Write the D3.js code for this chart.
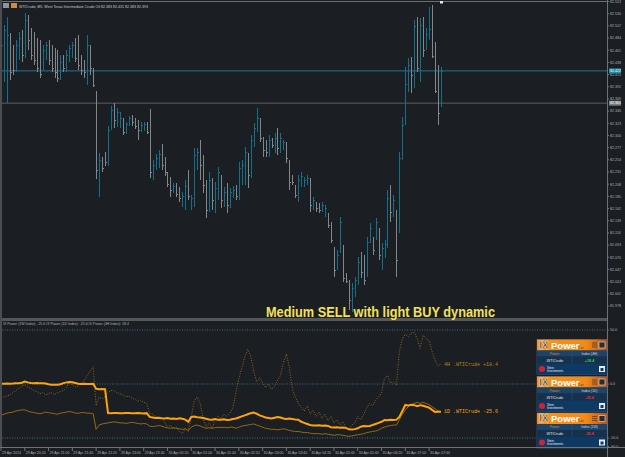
<!DOCTYPE html>
<html>
<head>
<meta charset="utf-8">
<script src="https://cdn.jsdelivr.net/npm/d3@7.9.0/dist/d3.min.js"></script>
<style>
html, body { margin: 0; padding: 0; background: #1b1e22; }
svg { display: block; font-family: "Liberation Sans", Arial, sans-serif; }
</style>
</head>
<body>
<svg id="chart" width="625" height="457"></svg>
<script>
// --- data (WTICrude M5) ---
const opens = [82.424,82.414,82.377,82.484,82.462,82.428,82.452,82.488,82.452,82.514,82.480,82.458,82.446,82.439,82.428,82.452,82.471,82.452,82.439,82.428,82.409,82.443,82.428,82.446,82.458,82.471,82.471,82.439,82.428,82.409,82.462,82.424,82.382,82.197,82.254,82.258,82.250,82.314,82.348,82.326,82.320,82.329,82.307,82.322,82.333,82.328,82.322,82.310,82.314,82.322,82.310,82.226,82.243,82.254,82.269,82.250,82.227,82.212,82.195,82.205,82.194,82.173,82.178,82.207,82.169,82.178,82.254,82.273,82.244,82.207,82.163,82.212,82.169,82.197,82.220,82.175,82.194,82.169,82.188,82.197,82.186,82.235,82.239,82.263,82.226,82.292,82.314,82.329,82.292,82.282,82.269,82.292,82.277,82.301,82.277,82.280,82.284,82.254,82.220,82.207,82.188,82.212,82.207,82.212,82.216,82.163,82.173,82.167,82.160,82.152,82.152,82.131,82.088,82.050,82.080,82.088,82.037,82.024,81.980,82.005,82.024,82.069,82.061,82.042,82.103,82.103,82.107,82.122,82.061,82.080,82.095,82.188,82.156,82.156,82.126,82.263,82.333,82.396,82.433,82.413,82.499,82.424,82.511,82.465,82.484,82.501,82.452,82.386,82.356];
const highs = [82.480,82.509,82.524,82.494,82.471,82.480,82.496,82.499,82.531,82.528,82.503,82.496,82.484,82.480,82.471,82.477,82.480,82.471,82.465,82.462,82.452,82.452,82.462,82.471,82.477,82.484,82.490,82.452,82.443,82.490,82.471,82.428,82.384,82.267,82.260,82.269,82.318,82.356,82.361,82.352,82.345,82.333,82.326,82.337,82.339,82.333,82.329,82.326,82.326,82.326,82.350,82.254,82.265,82.273,82.284,82.260,82.231,82.222,82.211,82.211,82.203,82.194,82.216,82.235,82.188,82.277,82.277,82.292,82.263,82.216,82.231,82.220,82.212,82.241,82.226,82.203,82.211,82.201,82.205,82.207,82.250,82.254,82.278,82.267,82.301,82.324,82.352,82.333,82.297,82.292,82.301,82.295,82.305,82.314,82.305,82.292,82.288,82.254,82.226,82.207,82.226,82.231,82.222,82.226,82.220,82.184,82.175,82.173,82.175,82.169,82.154,82.137,82.090,82.084,82.146,82.093,82.041,82.027,82.022,82.033,82.071,82.080,82.075,82.109,82.135,82.109,82.144,82.126,82.097,82.103,82.197,82.207,82.188,82.160,82.269,82.335,82.430,82.446,82.448,82.518,82.524,82.522,82.524,82.503,82.543,82.547,82.477,82.433,82.430];
const lows = [82.414,82.401,82.361,82.405,82.414,82.420,82.443,82.439,82.446,82.462,82.443,82.433,82.420,82.409,82.424,82.443,82.433,82.420,82.409,82.401,82.405,82.420,82.420,82.439,82.446,82.439,82.424,82.414,82.409,82.396,82.414,82.392,82.218,82.184,82.231,82.243,82.243,82.310,82.314,82.316,82.314,82.301,82.303,82.318,82.318,82.312,82.292,82.307,82.309,82.303,82.220,82.216,82.235,82.239,82.235,82.224,82.203,82.184,82.192,82.184,82.175,82.165,82.160,82.178,82.160,82.165,82.235,82.216,82.192,82.144,82.156,82.160,82.154,82.178,82.163,82.165,82.154,82.163,82.182,82.178,82.178,82.207,82.207,82.201,82.220,82.278,82.307,82.288,82.260,82.260,82.260,82.277,82.267,82.263,82.267,82.273,82.248,82.197,82.207,82.182,82.175,82.203,82.203,82.207,82.156,82.160,82.156,82.154,82.156,82.146,82.126,82.097,82.033,82.046,82.078,82.024,82.022,81.971,81.967,81.995,82.018,82.031,82.018,82.033,82.097,82.075,82.103,82.065,82.046,82.069,82.088,82.137,82.146,82.033,82.116,82.254,82.320,82.382,82.380,82.390,82.420,82.401,82.448,82.462,82.480,82.446,82.380,82.320,82.354];
const closes = [82.471,82.499,82.490,82.420,82.424,82.471,82.484,82.452,82.518,82.480,82.452,82.443,82.428,82.416,82.462,82.471,82.443,82.428,82.420,82.409,82.439,82.428,82.452,82.465,82.471,82.446,82.433,82.424,82.420,82.471,82.428,82.396,82.235,82.254,82.239,82.250,82.310,82.348,82.329,82.345,82.333,82.307,82.322,82.333,82.326,82.318,82.310,82.320,82.322,82.307,82.231,82.244,82.258,82.265,82.244,82.231,82.209,82.197,82.205,82.190,82.182,82.186,82.205,82.186,82.182,82.263,82.269,82.244,82.207,82.160,82.216,82.178,82.201,82.231,82.178,82.194,82.169,82.194,82.197,82.186,82.239,82.244,82.269,82.226,82.292,82.314,82.333,82.295,82.273,82.269,82.292,82.282,82.295,82.277,82.295,82.288,82.258,82.212,82.212,82.188,82.216,82.224,82.216,82.220,82.169,82.178,82.163,82.160,82.169,82.163,82.131,82.103,82.046,82.075,82.137,82.031,82.025,81.990,82.012,82.027,82.061,82.042,82.027,82.099,82.126,82.084,82.137,82.075,82.088,82.095,82.182,82.156,82.178,82.065,82.258,82.320,82.397,82.433,82.414,82.507,82.428,82.509,82.462,82.492,82.501,82.450,82.384,82.343,82.422];

const power4h = [-13,-12,-11,-10,-8,-6,-4,-2,-1,-3,-4,-6,-7,-9,-8,-10,-9,-8,-10,-8,-7,-6,-3,2,-1,-3,-2,1,3,8,12,16,-20,-12,-14,-11,-8,-6,-6,-8,-9,-10,-12,-11,-13,-14,-16,-15,-17,-18,-27,-28,-30,-32,-31,-35,-40,-38,-42,-40,-44,-46,-41,-44,-30,-16,-12,-18,-32,-40,-36,-41,-33,-30,-32,-28,-30,-27,-22,-8,5,15,25,32,26,12,2,6,1,-3,0,-5,-2,3,8,20,28,15,-5,-12,-18,-22,-25,-20,-28,-24,-30,-26,-32,-28,-34,-30,-36,-33,-38,-35,-40,-42,-38,-36,-30,-33,-28,-22,-18,-20,-15,-12,-8,5,8,1,2,-1,30,42,46,44,47,48,42,33,45,42,40,30,22,17,18.4];
const power1d = [0.2,0.3,0.5,0.3,0.4,0.6,0.8,1.2,2.2,1.5,1.0,0.8,0.9,0.7,0.6,0.4,-0.3,-0.6,-0.8,-0.6,-0.2,0.8,1.5,1.9,1.6,1.0,0.3,0.1,0.2,0.0,0.1,0.2,-4.5,-4.8,-4.6,-4.8,-26.9,-27.0,-26.8,-26.9,-27.1,-27.0,-26.8,-26.9,-27.0,-27.1,-26.9,-27.0,-27.2,-27.0,-30.5,-31.0,-31.5,-31.2,-31.8,-32.0,-31.5,-32.2,-32.0,-32.4,-31.8,-32.2,-33.0,-35.0,-30.5,-30.2,-30.8,-31.0,-31.5,-32.2,-32.8,-33.0,-32.5,-33.2,-33.0,-32.6,-33.3,-33.0,-32.4,-32.0,-31.0,-30.0,-29.0,-28.0,-27.0,-26.5,-27.5,-29.0,-30.0,-31.0,-31.5,-32.0,-31.2,-30.5,-31.0,-32.0,-32.5,-32.0,-32.5,-32.8,-33.0,-35.0,-36.0,-37.0,-38.0,-38.5,-38.5,-38.2,-38.6,-38.5,-38.8,-40.0,-40.2,-40.0,-40.5,-40.2,-40.6,-42.0,-42.2,-41.8,-41.0,-39.5,-39.0,-39.2,-38.8,-38.0,-37.0,-36.0,-35.0,-33.3,-33.5,-33.2,-33.3,-33.0,-30.5,-25.0,-19.4,-19.8,-19.2,-19.6,-20.5,-19.6,-20.2,-21.0,-22.0,-24.0,-26.0,-25.8,-25.6];
const power1w = [-28.7,-28,-27,-26.5,-26,-25,-24.5,-24,-24,-25,-26,-26.5,-27,-27.5,-27,-26,-26.5,-27,-27.5,-28,-27,-26.5,-26,-25.5,-26,-27,-27,-26.5,-26.5,-27,-27,-27.5,-42,-38,-37,-36.5,-36,-35.5,-35,-35.5,-36,-36,-36.5,-36,-35.5,-36,-36.5,-37,-36.5,-37,-39,-39.5,-39,-38.5,-39,-40,-40.5,-41,-40.5,-41,-41.5,-42,-41.5,-43,-40,-38.5,-38,-39,-40,-41,-40.5,-41,-40.5,-40,-40.5,-40,-40.5,-40,-40,-41,-40,-39,-38.5,-38,-37.5,-37,-38,-39,-40,-41,-41.5,-42,-42,-42.5,-42,-41.5,-42,-43,-43.5,-44,-44,-44.5,-45,-45,-45.5,-46,-46,-46,-46.5,-46,-46.5,-47,-47.5,-47,-47,-47.5,-48,-48.5,-48,-47.5,-47,-46.5,-46,-45,-44.5,-44,-43.5,-42.6,-41,-40,-39,-38.5,-38,-38,-33,-28,-24,-21,-19,-18,-17,-18,-17,-18,-19,-21,-23,-25,-25.6];

const priceTicks = [82.553,82.530,82.507,82.484,82.461,82.438,82.415,82.392,82.369,82.346,82.323,82.300,82.277,82.254,82.231,82.208,82.185,82.162,82.139,82.116,82.093,82.070,82.047,82.024,82.001,81.978];
const powerTicks = [50, 0, -50, -60];
const timeLabels = ['29 Apr 2024','29 Apr 20:20','29 Apr 21:00','29 Apr 21:40','29 Apr 22:20','29 Apr 23:00','29 Apr 23:40','30 Apr 00:20','30 Apr 01:00','30 Apr 01:40','30 Apr 02:20','30 Apr 03:00','30 Apr 03:40','30 Apr 04:20','30 Apr 05:00','30 Apr 05:40','30 Apr 06:20','30 Apr 07:00','30 Apr 07:40'];

const widgetFrames = ['4H', '1D', '1W'];
const widgetValues = [18.4, -25.6, -35.8];

const bidPrice = 82.422;
const refPrice = 82.361;

// --- layout ---
const svg = d3.select('#chart');
const axisX = 607;
const bull = '#14708a', bear = '#84878a';

const t0 = new Date(2024, 3, 29, 19, 40);
const barTimes = closes.map((_, i) => d3.timeMinute.offset(t0, 5 * i));
const x = d3.scaleTime().domain([barTimes[0], barTimes[barTimes.length - 1]]).range([1, 441]);
const y = d3.scaleLinear().domain([81.978, 82.553]).range([306, 1.5]);
const yP = d3.scaleLinear().domain([-50, 50]).range([438, 330]);

svg.append('rect').attr('width', 625).attr('height', 457).attr('fill', '#1b1e22');

// price panel helper lines
svg.append('line').attr('x1', 2).attr('x2', axisX).attr('y1', 1.5).attr('y2', 1.5)
  .attr('stroke', '#6b6e72').attr('stroke-width', 1);
svg.append('line').attr('x1', 2).attr('x2', axisX).attr('y1', y(bidPrice)).attr('y2', y(bidPrice))
  .attr('stroke', '#1c7892').attr('stroke-width', 1);
svg.append('line').attr('x1', 2).attr('x2', axisX).attr('y1', y(refPrice)).attr('y2', y(refPrice))
  .attr('stroke', '#5b5e62').attr('stroke-width', 1);

// OHLC bars
const bars = svg.append('g').attr('shape-rendering', 'crispEdges');
closes.forEach((c, i) => {
  const xi = Math.round(x(barTimes[i])) + 0.5;
  const col = c >= opens[i] ? bull : bear;
  bars.append('line').attr('x1', xi).attr('x2', xi)
    .attr('y1', y(highs[i])).attr('y2', y(lows[i])).attr('stroke', col);
  bars.append('line').attr('x1', xi - 1).attr('x2', xi)
    .attr('y1', Math.round(y(opens[i])) + 0.5).attr('y2', Math.round(y(opens[i])) + 0.5).attr('stroke', col);
  bars.append('line').attr('x1', xi).attr('x2', xi + 1)
    .attr('y1', Math.round(y(c)) + 0.5).attr('y2', Math.round(y(c)) + 0.5).attr('stroke', col);
});

// high marker
svg.append('rect').attr('x', 440).attr('y', 1).attr('width', 3).attr('height', 2.5).attr('fill', '#e8e8e8');

// title
svg.append('rect').attr('x', 3).attr('y', 3).attr('width', 6).attr('height', 5).attr('fill', '#8d96a0');
svg.append('rect').attr('x', 11).attr('y', 3).attr('width', 6).attr('height', 5).attr('fill', '#d08a3c');
svg.append('text').attr('x', 19).attr('y', 7.5).attr('font-size', 3.6).attr('fill', '#c9ccd0')
  .text('WTICrude, M5:  West Texas Intermediate Crude Oil  82.383 82.431 82.383 82.393');

// price axis
svg.append('line').attr('x1', axisX + 0.5).attr('x2', axisX + 0.5).attr('y1', 0).attr('y2', 457)
  .attr('stroke', '#6f7276');
const pAxis = svg.append('g');
priceTicks.forEach(p => {
  const yy = y(p);
  pAxis.append('line').attr('x1', axisX).attr('x2', axisX + 2).attr('y1', yy).attr('y2', yy).attr('stroke', '#6f7276');
  pAxis.append('text').attr('x', 610).attr('y', yy + 1.3).attr('font-size', 3.6).attr('fill', '#aeb2b6')
    .text(p.toFixed(3));
});
// current price boxes
svg.append('rect').attr('x', 609).attr('y', y(bidPrice) - 2.5).attr('width', 12).attr('height', 5).attr('fill', '#1a8fb0');
svg.append('text').attr('x', 610).attr('y', y(bidPrice) + 1.3).attr('font-size', 3.6).attr('fill', '#ffffff')
  .text(bidPrice.toFixed(3));
svg.append('rect').attr('x', 609).attr('y', y(refPrice) - 2.5).attr('width', 12).attr('height', 5).attr('fill', '#7a7e82');
svg.append('text').attr('x', 610).attr('y', y(refPrice) + 1.3).attr('font-size', 3.6).attr('fill', '#ffffff')
  .text(refPrice.toFixed(3));

// panel separator
svg.append('rect').attr('x', 0).attr('y', 318).attr('width', axisX).attr('height', 3).attr('fill', '#54575b');

// signal text
svg.append('text').attr('x', 266).attr('y', 317).attr('font-size', 15).attr('font-weight', 'bold')
  .attr('fill', '#f4e15a').attr('textLength', 229).attr('lengthAdjust', 'spacingAndGlyphs')
  .text('Medium SELL with light BUY dynamic');

// indicator panel
svg.append('text').attr('x', 3).attr('y', 324.8).attr('font-size', 3.5).attr('fill', '#aeb2b6')
  .text('IX Power (1W Index): -25.6  IX Power (1D Index): -25.6  IX Power (4H Index): 18.4');

[50, 0, -50].forEach(v => {
  svg.append('line').attr('x1', 2).attr('x2', axisX).attr('y1', yP(v)).attr('y2', yP(v))
    .attr('stroke', '#2f7190').attr('stroke-dasharray', '1,1.5');
});

const line = d3.line().x((d, i) => x(barTimes[i])).y(d => yP(d));
svg.append('path').datum(power4h).attr('d', line).attr('fill', 'none')
  .attr('stroke', '#94691a').attr('stroke-width', 1).attr('stroke-dasharray', '1,1.5');
svg.append('path').datum(power1w).attr('d', line).attr('fill', 'none')
  .attr('stroke', '#946a14').attr('stroke-width', 1);
svg.append('path').datum(power1d).attr('d', line).attr('fill', 'none')
  .attr('stroke', '#ffa40a').attr('stroke-width', 2);

const last = power4h.length - 1;
svg.append('text').attr('x', 444).attr('y', yP(power4h[last]) + 1.5)
  .attr('font-family', '"Liberation Mono", monospace').attr('font-size', 5).attr('fill', '#b8841a')
  .text('4H .WTICrude +' + power4h[last].toFixed(1));
svg.append('text').attr('x', 444).attr('y', yP(power1d[last]) + 1.5)
  .attr('font-family', '"Liberation Mono", monospace').attr('font-size', 5).attr('fill', '#ffa40a')
  .text('1D .WTICrude ' + power1d[last].toFixed(1));

// indicator axis
powerTicks.forEach(v => {
  const yy = Math.min(yP(v), 446.5);
  svg.append('line').attr('x1', axisX).attr('x2', axisX + 2).attr('y1', yy).attr('y2', yy).attr('stroke', '#6f7276');
  svg.append('text').attr('x', 610).attr('y', yy + 1.3).attr('font-size', 3.6).attr('fill', '#aeb2b6')
    .text(v.toFixed(1));
});

// IX Power widgets
const widgetY = [339.5, 376.5, 413];
widgetFrames.forEach((tf, k) => {
  const g = svg.append('g').attr('transform', `translate(537,${widgetY[k]})`);
  const grad = svg.append('defs').append('linearGradient').attr('id', 'hdr' + k);
  grad.append('stop').attr('offset', '0%').attr('stop-color', '#f7941d');
  grad.append('stop').attr('offset', '70%').attr('stop-color', '#f08a1a');
  grad.append('stop').attr('offset', '100%').attr('stop-color', '#b8501a');
  g.append('rect').attr('width', 70).attr('height', 35).attr('fill', '#12304e').attr('stroke', '#3b6c94').attr('stroke-width', 0.6);
  g.append('rect').attr('width', 70).attr('height', 11).attr('fill', `url(#hdr${k})`);
  g.append('text').attr('x', 2).attr('y', 9).attr('font-size', 10).attr('font-weight', 'bold')
    .attr('fill', '#3a3a3a').attr('stroke', '#ffffff').attr('stroke-width', 0.4).text('IX');
  g.append('text').attr('x', 14).attr('y', 9).attr('font-size', 9.5).attr('font-weight', 'bold')
    .attr('fill', '#ffffff').text('Power');
  g.append('text').attr('x', 41).attr('y', 9).attr('font-size', 3).attr('fill', '#5a3a10').text('1.xx');
  g.append('rect').attr('x', 62).attr('y', 2.5).attr('width', 6).attr('height', 6).attr('fill', '#2a2f36').attr('stroke', '#e8e8e8').attr('stroke-width', 0.6);
  [3.5, 5.5, 7.5].forEach(yy => g.append('line').attr('x1', 55).attr('x2', 60).attr('y1', yy).attr('y2', yy).attr('stroke', '#3a3a3a').attr('stroke-width', 0.7));
  g.append('rect').attr('y', 11).attr('width', 70).attr('height', 6).attr('fill', '#1d4468');
  g.append('rect').attr('y', 17).attr('width', 70).attr('height', 7).attr('fill', '#17314d');
  g.append('line').attr('x1', 35).attr('x2', 35).attr('y1', 11).attr('y2', 24).attr('stroke', '#36608a').attr('stroke-width', 0.4);
  g.append('text').attr('x', 17.5).attr('y', 15.3).attr('text-anchor', 'middle').attr('font-size', 3.4).attr('fill', '#c98a4a').text('Power');
  g.append('text').attr('x', 52.5).attr('y', 15.3).attr('text-anchor', 'middle').attr('font-size', 3.4).attr('fill', '#d4d8dc').text(`Index (${tf})`);
  g.append('text').attr('x', 17.5).attr('y', 22).attr('text-anchor', 'middle').attr('font-size', 3.6).attr('fill', '#e6e8ea').text('.WTICrude');
  const v = widgetValues[k];
  g.append('text').attr('x', 52.5).attr('y', 22).attr('text-anchor', 'middle').attr('font-size', 3.8).attr('font-weight', 'bold')
    .attr('fill', v >= 0 ? '#29d62f' : '#e0302e').text((v >= 0 ? '+' : '') + v.toFixed(1));
  g.append('rect').attr('y', 24).attr('width', 70).attr('height', 11).attr('fill', '#0e3964');
  g.append('circle').attr('cx', 5).attr('cy', 29.5).attr('r', 3).attr('fill', '#d2232a');
  g.append('text').attr('x', 10).attr('y', 29).attr('font-size', 3).attr('fill', '#e8ecf0').text('Stein');
  g.append('text').attr('x', 10).attr('y', 32).attr('font-size', 3).attr('fill', '#e8ecf0').text('Investments');
  g.append('rect').attr('x', 62).attr('y', 26.5).attr('width', 6).attr('height', 6).attr('fill', '#e8ecf0');
  g.append('rect').attr('x', 63.5).attr('y', 28.5).attr('width', 3).attr('height', 3).attr('fill', '#0e3964');
});

// bottom time axis
svg.append('line').attr('x1', 0).attr('x2', 625).attr('y1', 447.5).attr('y2', 447.5).attr('stroke', '#6f7276');
timeLabels.forEach((lbl, k) => {
  const tx = x(barTimes[k * 8]);
  svg.append('line').attr('x1', tx).attr('x2', tx).attr('y1', 448).attr('y2', 451).attr('stroke', '#6f7276');
  svg.append('text').attr('x', tx + 1).attr('y', 453.5).attr('font-size', 3.5).attr('fill', '#aeb2b6').text(lbl);
});

// window border at left
svg.append('rect').attr('x', 0).attr('y', 0).attr('width', 2).attr('height', 447).attr('fill', '#4a4d51');
</script>
</body>
</html>
